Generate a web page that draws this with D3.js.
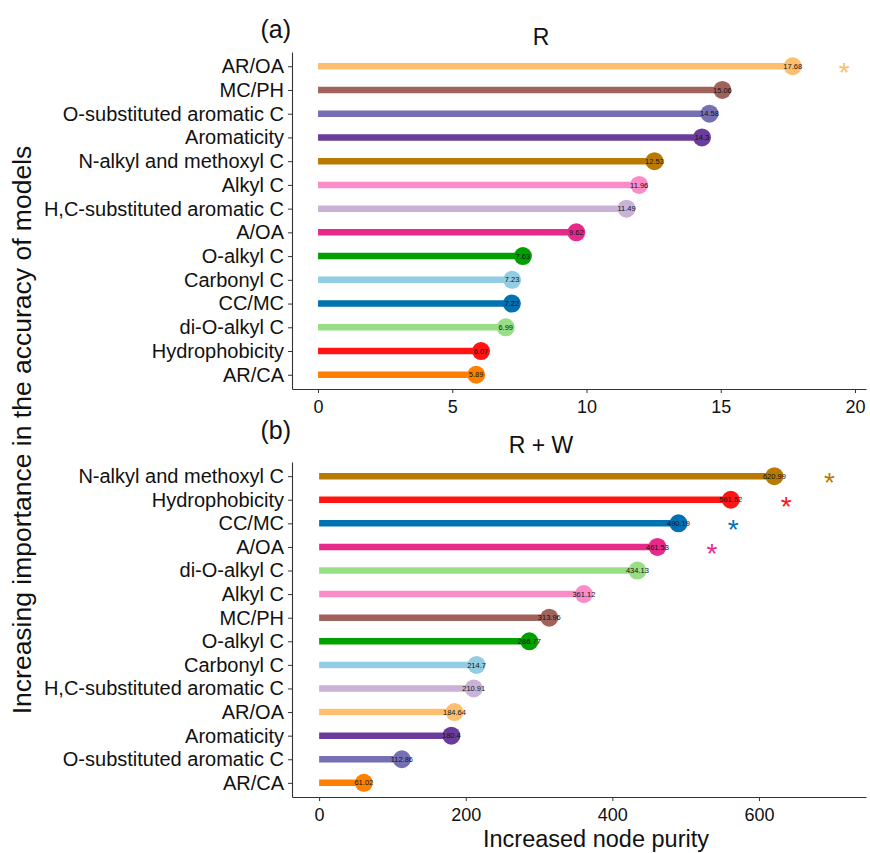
<!DOCTYPE html>
<html>
<head>
  <meta charset="utf-8">
  <title>lollipop</title>
  <style>
    body { margin: 0; padding: 0; background: #fff; }
    text { font-family: "Liberation Sans", Arial, sans-serif; }
  </style>
</head>
<body>
  <script src="https://d3js.org/d3.v7.min.js"></script>
  <div id="my_dataviz"></div>
  <script>
    // colour of each variable (same in both panels)
    var varNames = ["AR/OA", "MC/PH", "O-substituted aromatic C", "Aromaticity",
      "N-alkyl and methoxyl C", "Alkyl C", "H,C-substituted aromatic C", "A/OA",
      "O-alkyl C", "Carbonyl C", "CC/MC", "di-O-alkyl C", "Hydrophobicity", "AR/CA"]
    var varColors = ["#fdbf6f", "#a0625a", "#7570b3", "#6a3d9a",
      "#b87a00", "#fb8cc7", "#cab2d6", "#e7298a",
      "#00a000", "#92cde3", "#0072b2", "#98de86", "#ff1414", "#ff7f00"]

    // panel (a) R, top to bottom
    var catsA = ["AR/OA", "MC/PH", "O-substituted aromatic C", "Aromaticity",
      "N-alkyl and methoxyl C", "Alkyl C", "H,C-substituted aromatic C", "A/OA",
      "O-alkyl C", "Carbonyl C", "CC/MC", "di-O-alkyl C", "Hydrophobicity", "AR/CA"]
    var valsA = [17.68, 15.06, 14.58, 14.3, 12.53, 11.96, 11.49, 9.62, 7.63, 7.23, 7.22, 6.99, 6.07, 5.89]
    var starsA = [{ cat: "AR/OA", x: 19.6 }]
    var ticksA = [0, 5, 10, 15, 20]

    // panel (b) R + W, top to bottom
    var catsB = ["N-alkyl and methoxyl C", "Hydrophobicity", "CC/MC", "A/OA",
      "di-O-alkyl C", "Alkyl C", "MC/PH", "O-alkyl C", "Carbonyl C",
      "H,C-substituted aromatic C", "AR/OA", "Aromaticity", "O-substituted aromatic C", "AR/CA"]
    var valsB = [620.99, 561.52, 490.19, 461.53, 434.13, 361.12, 313.96, 286.77, 214.7, 210.91, 184.64, 180.4, 112.86, 61.02]
    var starsB = [{ cat: "N-alkyl and methoxyl C", x: 696 }, { cat: "Hydrophobicity", x: 637 },
      { cat: "CC/MC", x: 565 }, { cat: "A/OA", x: 536 }]
    var ticksB = [0, 200, 400, 600]

    var W = 870, H = 853
    var svg = d3.select("#my_dataviz").append("svg")
      .attr("width", W).attr("height", H)

    var color = d3.scaleOrdinal().domain(varNames).range(varColors)

    function panel(cats, vals, stars, ticks, xdom, top, bottom, tag, title, titleY, tagY) {
      var left = 292, right = 866
      var x = d3.scaleLinear().domain(xdom).range([left, right])
      var y = d3.scalePoint().domain(cats).range([top, bottom]).padding(0.6)

      var g = svg.append("g")

      // axes
      var ax = g.append("g").attr("transform", "translate(0," + bottom + ")")
        .call(d3.axisBottom(x).tickValues(ticks).tickSize(4).tickSizeOuter(0))
      ax.select(".domain").attr("stroke", "#333").attr("stroke-width", 1.1)
      ax.selectAll(".tick line").attr("stroke", "#333")
      ax.selectAll(".tick text").attr("font-size", 18).attr("fill", "#111").attr("dy", "0.95em")
        .style("font-family", "Liberation Sans, Arial, sans-serif")

      var ay = g.append("g").attr("transform", "translate(" + left + ",0)")
        .call(d3.axisLeft(y).tickSize(4).tickSizeOuter(0))
      ay.select(".domain").attr("stroke", "#333").attr("stroke-width", 1.1)
      ay.selectAll(".tick line").attr("stroke", "#333")
      ay.selectAll(".tick text").attr("font-size", 20).attr("fill", "#111").attr("x", -8)
        .style("font-family", "Liberation Sans, Arial, sans-serif")

      // lollipops
      var data = cats.map(function (c, i) { return { cat: c, value: vals[i] } })
      g.selectAll(".stick").data(data).enter().append("line")
        .attr("x1", x(0)).attr("x2", function (d) { return x(d.value) })
        .attr("y1", function (d) { return y(d.cat) }).attr("y2", function (d) { return y(d.cat) })
        .attr("stroke", function (d) { return color(d.cat) })
        .attr("stroke-width", 6.5)
      g.selectAll(".dot").data(data).enter().append("circle")
        .attr("cx", function (d) { return x(d.value) })
        .attr("cy", function (d) { return y(d.cat) })
        .attr("r", 9)
        .attr("fill", function (d) { return color(d.cat) })
      g.selectAll(".val").data(data).enter().append("text")
        .attr("x", function (d) { return x(d.value) })
        .attr("y", function (d) { return y(d.cat) })
        .attr("dy", "0.35em")
        .attr("text-anchor", "middle")
        .attr("font-size", 7.5)
        .attr("fill", "#111")
        .text(function (d) { return d.value })

      // significance stars
      g.selectAll(".star").data(stars).enter().append("text")
        .attr("x", function (d) { return x(d.x) })
        .attr("y", function (d) { return y(d.cat) + 16 })
        .attr("text-anchor", "middle")
        .attr("font-size", 28)
        .attr("fill", function (d) { return color(d.cat) })
        .text("*")

      g.append("text").attr("x", 291).attr("y", tagY).attr("text-anchor", "end")
        .attr("font-size", 25).attr("fill", "#111").text(tag)
      g.append("text").attr("x", 541).attr("y", titleY).attr("text-anchor", "middle")
        .attr("font-size", 23).attr("fill", "#111").text(title)
    }

    panel(catsA, valsA, starsA, ticksA, [-0.97, 20.41], 52, 389, "(a)", "R", 45, 38)
    panel(catsB, valsB, starsB, ticksB, [-37, 746], 462, 797, "(b)", "R + W", 453, 439)

    // shared axis titles
    svg.append("text")
      .attr("transform", "translate(31,430) rotate(-90)")
      .attr("text-anchor", "middle")
      .attr("font-size", 26.5).attr("fill", "#111")
      .text("Increasing importance in the accuracy of models")
    svg.append("text")
      .attr("x", 596).attr("y", 847)
      .attr("text-anchor", "middle")
      .attr("font-size", 23.5).attr("fill", "#111")
      .text("Increased node purity")
  </script>
</body>
</html>
